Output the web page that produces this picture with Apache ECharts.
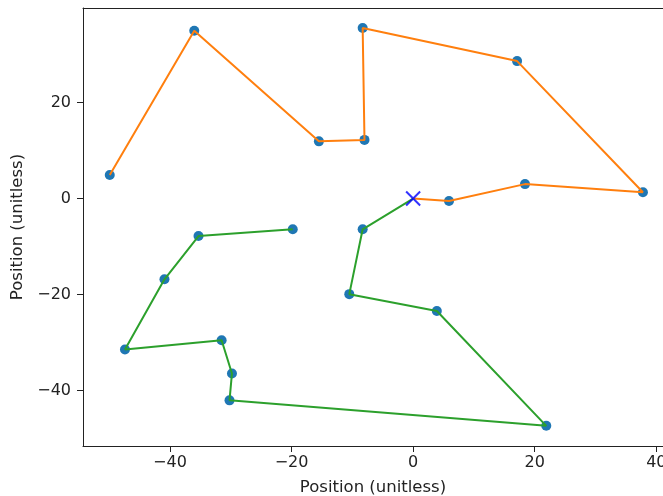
<!DOCTYPE html>
<html>
<head>
<meta charset="utf-8">
<script src="https://cdn.jsdelivr.net/npm/echarts@6/dist/echarts.min.js"></script>
<style>
  html, body { margin: 0; padding: 0; background: #fff; }
  #chart { width: 663px; height: 496px; }
</style>
</head>
<body>
<div id="chart"></div>
<script>
// path of the orange walker (starts at origin)
var orangeX = [0, 5.9, 18.4, 37.8, 17.1, -8.3, -8.0, -15.5, -36.0, -49.9];
var orangeY = [0, -0.5, 3.0, 1.3, 28.6, 35.5, 12.2, 11.9, 34.9, 4.9];
// path of the green walker (starts at origin)
var greenX = [0, -8.3, -10.5, 3.9, 21.9, -30.2, -29.8, -31.5, -47.4, -40.9, -35.3, -19.8];
var greenY = [0, -6.4, -19.9, -23.4, -47.3, -42.0, -36.4, -29.5, -31.4, -16.8, -7.8, -6.4];
// tick labels
var xTicks = [-40, -20, 0, 20, 40];
var yTicks = [-40, -20, 0, 20];

function pairs(xs, ys) {
  return xs.map(function (x, i) { return [x, ys[i]]; });
}
var orangeData = pairs(orangeX, orangeY);
var greenData = pairs(greenX, greenY);
var dots = orangeData.slice(1).concat(greenData.slice(1));

function minus(v) {
  return String(v).replace('-', '\u2212');
}

var labelStyle = { color: '#222', fontSize: 16, fontFamily: 'DejaVu Sans' };
var titleStyle = { color: '#222', fontSize: 16.5, fontFamily: 'DejaVu Sans' };
var spine = { show: true, onZero: false, lineStyle: { color: '#222', width: 1 } };

var chart = echarts.init(document.getElementById('chart'));
chart.setOption({
  backgroundColor: '#fff',
  animation: false,
  grid: { left: 83, right: 0, top: 8, bottom: 50, outerBoundsMode: 'none', containLabel: false },
  xAxis: [{
    type: 'value',
    min: -54.3, max: 41.1,
    name: 'Position (unitless)',
    nameLocation: 'middle',
    nameGap: 33,
    nameTextStyle: titleStyle,
    axisLine: spine,
    splitLine: { show: false },
    axisTick: { show: true, length: 6, customValues: xTicks, lineStyle: { color: '#222' } },
    axisLabel: Object.assign({ margin: 9, customValues: xTicks, formatter: minus }, labelStyle)
  }, {
    // top frame line
    type: 'value',
    position: 'top',
    min: -54.3, max: 41.1,
    axisLine: spine,
    axisTick: { show: false },
    axisLabel: { show: false },
    splitLine: { show: false }
  }],
  yAxis: {
    type: 'value',
    min: -51.5, max: 39.65,
    name: 'Position (unitless)',
    nameLocation: 'middle',
    nameGap: 49,
    nameTextStyle: titleStyle,
    axisLine: spine,
    splitLine: { show: false },
    axisTick: { show: true, length: 6, customValues: yTicks, lineStyle: { color: '#222' } },
    axisLabel: Object.assign({ margin: 12, customValues: yTicks, formatter: minus }, labelStyle)
  },
  series: [
    {
      type: 'scatter',
      data: dots,
      symbolSize: 10,
      itemStyle: { color: '#1f77b4', opacity: 1 },
      z: 1
    },
    {
      type: 'line',
      data: orangeData,
      showSymbol: false,
      lineStyle: { color: '#ff7f0e', width: 2 },
      z: 2
    },
    {
      type: 'line',
      data: greenData,
      showSymbol: false,
      lineStyle: { color: '#2ca02c', width: 2 },
      z: 2
    },
    {
      type: 'scatter',
      data: [[0, 0]],
      symbol: 'path://M0,0L10,10M10,0L0,10',
      symbolSize: 14,
      itemStyle: { color: 'none', borderColor: '#0000ff', borderWidth: 2 },
      z: 3
    }
  ]
});
</script>
</body>
</html>
